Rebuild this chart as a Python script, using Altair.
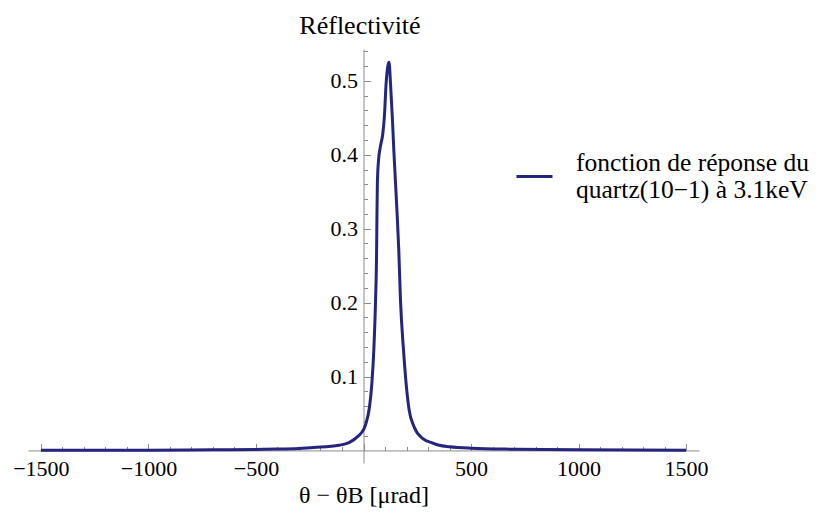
import altair as alt
import pandas as pd

# ---- data ----
theta = [-1500, -1000, -700, -500, -400, -300, -200, -150, -112, -65, -26, 0, 12, 28, 39,
         48, 56, 61, 62.5, 64.5, 70, 78, 90, 97, 105, 112, 118, 121, 124, 134, 141, 149,
         157, 164, 172, 186, 198, 212, 235, 276, 322, 352, 400, 500, 700, 1000, 1500]
refl = [0.0002, 0.0004, 0.0008, 0.0013, 0.0018, 0.0027, 0.0045, 0.0058, 0.007, 0.011,
        0.019, 0.028, 0.037, 0.059, 0.091, 0.136, 0.203, 0.271, 0.316, 0.361, 0.393, 0.41,
        0.429, 0.451, 0.496, 0.518, 0.525, 0.52, 0.505, 0.451, 0.406, 0.361, 0.316, 0.271,
        0.203, 0.136, 0.091, 0.055, 0.032, 0.016, 0.010, 0.007, 0.005, 0.003, 0.0016,
        0.0008, 0.0004]
series_name = "fonction de réponse du\nquartz(10−1) à 3.1keV"

x_major = [-1500, -1000, -500, 500, 1000, 1500]
x_ticks = list(range(-1500, 1501, 100))
y_major = [0.1, 0.2, 0.3, 0.4, 0.5]
y_ticks = [round(0.02 * i, 2) for i in range(1, 28)]

X_DOMAIN = [-1560, 1560]
Y_DOMAIN = [-0.017, 0.543]
W, H = 671, 414

df = pd.DataFrame({"theta": theta, "refl": refl, "serie": [series_name] * len(theta)})

FONT = "Liberation Serif"
AXIS_GRAY = "#8c8c8c"
LINE_COLOR = "#25257f"

# positions of the axes crossing at the origin
y_axis_px = W * (0 - X_DOMAIN[0]) / (X_DOMAIN[1] - X_DOMAIN[0])
x_axis_from_bottom = H * (0 - Y_DOMAIN[0]) / (Y_DOMAIN[1] - Y_DOMAIN[0])

xs = alt.Scale(domain=X_DOMAIN, nice=False, zero=False)
ys = alt.Scale(domain=Y_DOMAIN, nice=False, zero=False)

base = alt.Chart(df)

line = base.mark_line(strokeWidth=3, interpolate="monotone").encode(
    x=alt.X("theta:Q", scale=xs,
            axis=alt.Axis(orient="bottom", offset=-x_axis_from_bottom, values=x_major,
                          format="d", ticks=False, tickSize=0, labelPadding=8,
                          labelFont=FONT, labelFontSize=22, labelColor="black",
                          domainColor=AXIS_GRAY, domainWidth=1, grid=False,
                          title="θ − θB [μrad]", titleFont=FONT, titleFontSize=24,
                          titleFontWeight="normal", titleColor="black",
                          titleBaseline="alphabetic", titleY=52.5)),
    y=alt.Y("refl:Q", scale=ys,
            axis=alt.Axis(orient="left", offset=-y_axis_px, values=y_major, format=".1f",
                          ticks=False, tickSize=0, labelPadding=6, labelFont=FONT,
                          labelFontSize=22, labelColor="black", domainColor=AXIS_GRAY,
                          domainWidth=1, grid=False, title="Réflectivité", titleAngle=0,
                          titleX=-4, titleY=-15.7, titleAlign="center",
                          titleBaseline="alphabetic", titleFont=FONT, titleFontSize=26,
                          titleFontWeight="normal", titleColor="black")),
    color=alt.Color("serie:N", scale=alt.Scale(range=[LINE_COLOR]), title=None,
                    legend=alt.Legend(orient="none", legendX=487, legendY=94,
                                      symbolType="M-1,0.78H1", symbolSize=1296,
                                      symbolStrokeWidth=3, labelOffset=22,
                                      labelFont=FONT, labelFontSize=25.5,
                                      labelColor="black", labelLimit=500,
                                      labelExpr="split(datum.label, '\\n')")),
)

tick_layer = base.mark_line(strokeOpacity=0).encode(
    x=alt.X("theta:Q", scale=xs, title=None,
            axis=alt.Axis(orient="top", offset=-(H - x_axis_from_bottom), values=x_ticks,
                          labels=False, domain=False, grid=False, tickColor=AXIS_GRAY,
                          tickWidth=1,
                          tickSize={"condition": {"test": "abs(datum.value) % 500 === 0", "value": 7},
                                    "value": 4})),
    y=alt.Y("refl:Q", scale=ys, title=None,
            axis=alt.Axis(orient="right", offset=-(W - y_axis_px), values=y_ticks,
                          labels=False, domain=False, grid=False, tickColor=AXIS_GRAY,
                          tickWidth=1,
                          tickSize={"condition": {"test": "round(datum.value * 100) % 10 === 0", "value": 7},
                                    "value": 4})),
)

chart = (
    alt.layer(line, tick_layer)
    .resolve_scale(x="independent", y="independent")
    .properties(width=W, height=H, autosize=alt.AutoSizeParams(type="none"),
                padding={"left": 20, "top": 41, "right": 116, "bottom": 45})
    .configure_view(stroke=None)
)

chart.save("out.html", embed_options={"renderer": "svg", "actions": False})
